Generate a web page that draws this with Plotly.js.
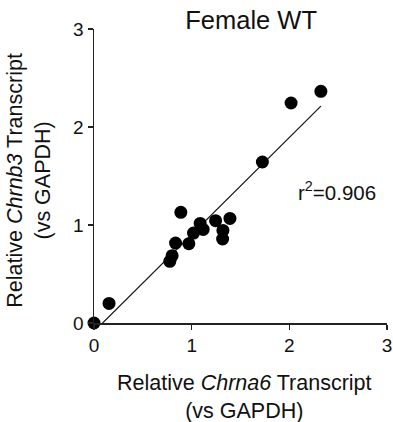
<!DOCTYPE html>
<html>
<head>
<meta charset="utf-8">
<script src="https://cdn.plot.ly/plotly-3.0.1.min.js"></script>
<style>html,body{margin:0;padding:0;background:#fff}#chart{width:393px;height:422px}</style>
</head>
<body>
<div id="chart"></div>
<script>
// Relative Chrna6 transcript (x) vs relative Chrnb3 transcript (y), Female WT
const chrna6 = [0, 0.154, 0.776, 0.80, 0.835, 0.889, 0.971, 1.019, 1.087, 1.118, 1.245, 1.317, 1.32, 1.392, 1.724, 2.018, 2.323];
const chrnb3 = [0, 0.20, 0.629, 0.687, 0.816, 1.129, 0.809, 0.918, 1.016, 0.955, 1.044, 0.857, 0.945, 1.067, 1.643, 2.245, 2.364];
const tickVals = [0, 1, 2, 3];
const tickText = ['0', '1', '2', '3'];
const chartTitle = 'Female WT';
const xTitle = 'Relative <i>Chrna6</i> Transcript<br>(vs GAPDH)';
const yTitle = 'Relative <i>Chrnb3</i> Transcript<br>(vs GAPDH)';
const r2Label = 'r<sup>2</sup>=0.906';

// least-squares fit computed from the data
const n = chrna6.length;
const mx = chrna6.reduce((a, b) => a + b, 0) / n;
const my = chrnb3.reduce((a, b) => a + b, 0) / n;
let sxy = 0, sxx = 0;
for (let i = 0; i < n; i++) { sxy += (chrna6[i] - mx) * (chrnb3[i] - my); sxx += (chrna6[i] - mx) ** 2; }
const slope = sxy / sxx, intercept = my - slope * mx;
const xMin = Math.min(...chrna6), xMax = Math.max(...chrna6);
const fitX = [xMin, xMax];
const fitY = fitX.map(v => slope * v + intercept);

const font = {family: 'Liberation Sans, Arial, sans-serif', color: '#111'};
const titleFont = {family: font.family, size: 21.5, color: '#111'};
const axisCommon = {
  range: [0, 3], tickvals: tickVals, ticktext: tickText,
  showgrid: false, zeroline: false, showline: true, linecolor: '#222', linewidth: 1.5,
  ticks: 'outside', ticklen: 5, tickwidth: 1.5, tickcolor: '#222',
  tickfont: {family: font.family, size: 19, color: '#111'},
  fixedrange: true
};

Plotly.newPlot('chart', [
  {x: fitX, y: fitY, mode: 'lines', line: {color: '#111', width: 1.2}, hoverinfo: 'skip', showlegend: false},
  {x: chrna6, y: chrnb3, mode: 'markers', marker: {color: '#000', size: 13}, cliponaxis: false, showlegend: false}
], {
  width: 393, height: 422,
  margin: {l: 94, r: 6, t: 29, b: 99},
  paper_bgcolor: '#fff', plot_bgcolor: '#fff',
  font: font,
  title: {text: chartTitle, x: 0.639, xanchor: 'center', y: 0.952, yanchor: 'middle', font: {family: font.family, size: 25.5, color: '#111'}},
  xaxis: Object.assign({}, axisCommon),
  yaxis: Object.assign({}, axisCommon),
  annotations: [
    {text: r2Label, xref: 'x', yref: 'y', x: 2.49, y: 1.35, showarrow: false, xanchor: 'center', yanchor: 'middle', font: {family: font.family, size: 20.5, color: '#111'}},
    {text: xTitle, xref: 'paper', yref: 'paper', x: 0.515, y: -0.25, showarrow: false, xanchor: 'center', yanchor: 'middle', font: titleFont},
    {text: yTitle, xref: 'paper', yref: 'paper', x: -0.22, y: 0.486, textangle: -90, showarrow: false, xanchor: 'center', yanchor: 'middle', font: titleFont}
  ]
}, {displayModeBar: false, staticPlot: true});
</script>
</body>
</html>
